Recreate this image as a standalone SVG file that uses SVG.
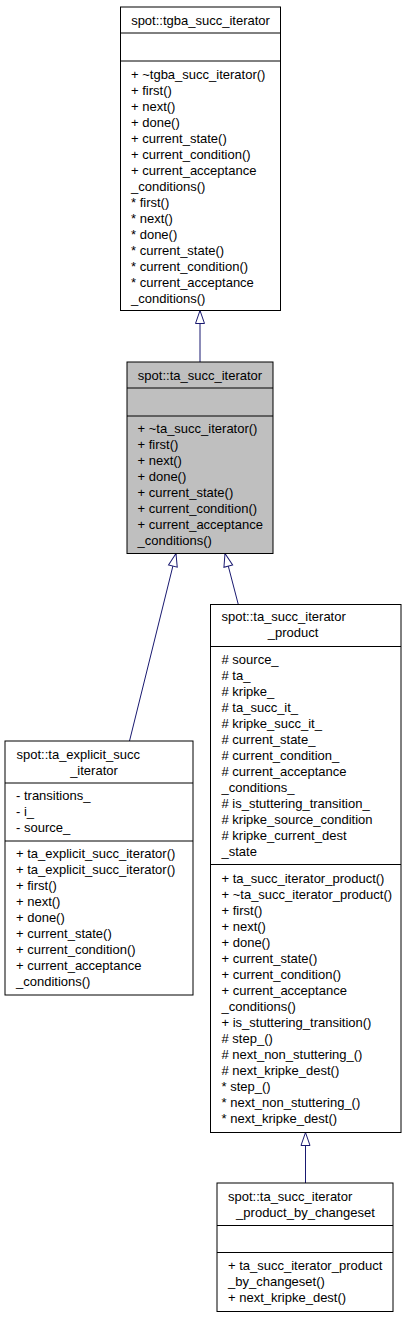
<svg xmlns="http://www.w3.org/2000/svg" width="405" height="1317" viewBox="0 0 405 1317">
<style>
.box{fill:#fff;stroke:#000;stroke-width:1}
.hl{fill:#bfbfbf}
.sep{stroke:#000;stroke-width:1}
text{font-family:"Liberation Sans",Arial,sans-serif;font-size:13px;fill:#000}
.m{text-anchor:middle}
.edge{stroke:#191970;stroke-width:1;fill:none}
</style>
<defs>
<marker id="tri" markerUnits="userSpaceOnUse" markerWidth="16" markerHeight="12" viewBox="0 0 16 12" refX="14" refY="5.5" orient="auto">
<path d="M1,1 L14,5.5 L1,10 Z" fill="#fff" stroke="#191970" stroke-width="1"/>
</marker>
</defs>
<rect width="405" height="1317" fill="#fff"/>
<g id="connectors">
<line class="edge" x1="200" y1="362" x2="200" y2="310.5" marker-end="url(#tri)"/>
<line class="edge" x1="129.5" y1="741" x2="176" y2="553.5" marker-end="url(#tri)"/>
<line class="edge" x1="238.3" y1="604.5" x2="225" y2="553.5" marker-end="url(#tri)"/>
<line class="edge" x1="305.5" y1="1183" x2="305.5" y2="1132.5" marker-end="url(#tri)"/>
</g>
<g id="tgba_succ_iterator">
<rect class="box" x="120.5" y="7" width="160" height="303.5"/>
<line class="sep" x1="120.5" y1="33" x2="280.5" y2="33"/>
<line class="sep" x1="120.5" y1="61" x2="280.5" y2="61"/>
<text class="m" x="200.5" y="25">spot::tgba_succ_iterator</text>
<text x="131" y="79">+ ~tgba_succ_iterator()</text>
<text x="131" y="95">+ first()</text>
<text x="131" y="111">+ next()</text>
<text x="131" y="127">+ done()</text>
<text x="131" y="143">+ current_state()</text>
<text x="131" y="159">+ current_condition()</text>
<text x="131" y="175">+ current_acceptance</text>
<text x="131" y="191">_conditions()</text>
<text x="131" y="207">* first()</text>
<text x="131" y="223">* next()</text>
<text x="131" y="239">* done()</text>
<text x="131" y="255">* current_state()</text>
<text x="131" y="271">* current_condition()</text>
<text x="131" y="287">* current_acceptance</text>
<text x="131" y="303">_conditions()</text>
</g>
<g id="ta_succ_iterator">
<rect class="box hl" x="127" y="362" width="146" height="191.5"/>
<line class="sep" x1="127" y1="388" x2="273" y2="388"/>
<line class="sep" x1="127" y1="416" x2="273" y2="416"/>
<text class="m" x="200" y="380">spot::ta_succ_iterator</text>
<text x="137.5" y="433">+ ~ta_succ_iterator()</text>
<text x="137.5" y="449">+ first()</text>
<text x="137.5" y="465">+ next()</text>
<text x="137.5" y="481">+ done()</text>
<text x="137.5" y="497">+ current_state()</text>
<text x="137.5" y="513">+ current_condition()</text>
<text x="137.5" y="529">+ current_acceptance</text>
<text x="137.5" y="545">_conditions()</text>
</g>
<g id="ta_explicit_succ_iterator">
<rect class="box" x="5" y="741" width="188" height="254"/>
<line class="sep" x1="5" y1="783" x2="193" y2="783"/>
<line class="sep" x1="5" y1="841" x2="193" y2="841"/>
<text x="16.5" y="759">spot::ta_explicit_succ</text>
<text class="m" x="94" y="775">_iterator</text>
<text x="16" y="800">- transitions_</text>
<text x="16" y="816">- i_</text>
<text x="16" y="832">- source_</text>
<text x="16" y="858">+ ta_explicit_succ_iterator()</text>
<text x="16" y="874">+ ta_explicit_succ_iterator()</text>
<text x="16" y="890">+ first()</text>
<text x="16" y="906">+ next()</text>
<text x="16" y="922">+ done()</text>
<text x="16" y="938">+ current_state()</text>
<text x="16" y="954">+ current_condition()</text>
<text x="16" y="970">+ current_acceptance</text>
<text x="16" y="986">_conditions()</text>
</g>
<g id="ta_succ_iterator_product">
<rect class="box" x="210.5" y="604.5" width="190.5" height="528"/>
<line class="sep" x1="210.5" y1="646.5" x2="401" y2="646.5"/>
<line class="sep" x1="210.5" y1="864.5" x2="401" y2="864.5"/>
<text x="221.5" y="621">spot::ta_succ_iterator</text>
<text class="m" x="293" y="637">_product</text>
<text x="221.5" y="664"># source_</text>
<text x="221.5" y="680"># ta_</text>
<text x="221.5" y="696"># kripke_</text>
<text x="221.5" y="712"># ta_succ_it_</text>
<text x="221.5" y="728"># kripke_succ_it_</text>
<text x="221.5" y="744"># current_state_</text>
<text x="221.5" y="760"># current_condition_</text>
<text x="221.5" y="776"># current_acceptance</text>
<text x="221.5" y="792">_conditions_</text>
<text x="221.5" y="808"># is_stuttering_transition_</text>
<text x="221.5" y="824"># kripke_source_condition</text>
<text x="221.5" y="840"># kripke_current_dest</text>
<text x="221.5" y="856">_state</text>
<text x="221.5" y="882.5">+ ta_succ_iterator_product()</text>
<text x="221.5" y="898.5">+ ~ta_succ_iterator_product()</text>
<text x="221.5" y="914.5">+ first()</text>
<text x="221.5" y="930.5">+ next()</text>
<text x="221.5" y="946.5">+ done()</text>
<text x="221.5" y="962.5">+ current_state()</text>
<text x="221.5" y="978.5">+ current_condition()</text>
<text x="221.5" y="994.5">+ current_acceptance</text>
<text x="221.5" y="1010.5">_conditions()</text>
<text x="221.5" y="1026.5">+ is_stuttering_transition()</text>
<text x="221.5" y="1042.5"># step_()</text>
<text x="221.5" y="1058.5"># next_non_stuttering_()</text>
<text x="221.5" y="1074.5"># next_kripke_dest()</text>
<text x="221.5" y="1090.5">* step_()</text>
<text x="221.5" y="1106.5">* next_non_stuttering_()</text>
<text x="221.5" y="1122.5">* next_kripke_dest()</text>
</g>
<g id="ta_succ_iterator_product_by_changeset">
<rect class="box" x="217" y="1183" width="176" height="128.5"/>
<line class="sep" x1="217" y1="1225.5" x2="393" y2="1225.5"/>
<line class="sep" x1="217" y1="1252.5" x2="393" y2="1252.5"/>
<text x="228" y="1201">spot::ta_succ_iterator</text>
<text class="m" x="305.5" y="1217">_product_by_changeset</text>
<text x="228" y="1270">+ ta_succ_iterator_product</text>
<text x="228" y="1286">_by_changeset()</text>
<text x="228" y="1302">+ next_kripke_dest()</text>
</g>
</svg>
